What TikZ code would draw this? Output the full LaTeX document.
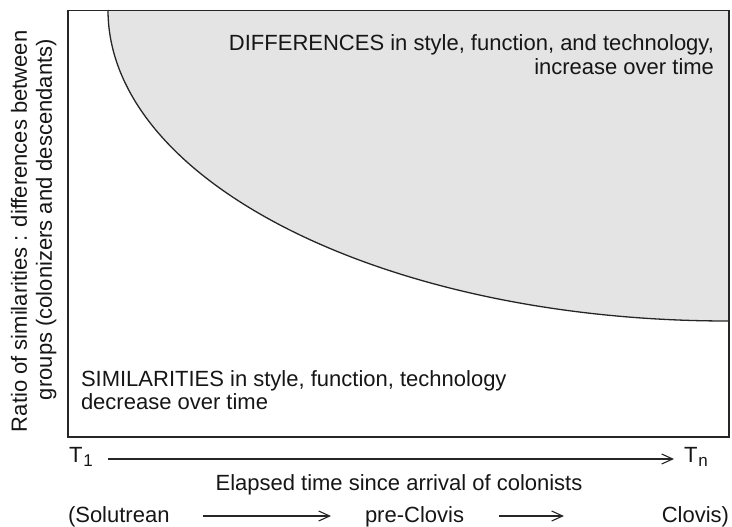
\documentclass[tikz,border=0pt]{standalone}
\usepackage{fontspec}
\setmainfont{Liberation Sans}
\usetikzlibrary{arrows.meta}
\definecolor{lineC}{HTML}{262626}
\definecolor{fillC}{HTML}{E4E4E4}
\definecolor{textC}{HTML}{161616}
\begin{document}
\begin{tikzpicture}[x=1pt,y=-1pt,
  lbl/.style={inner sep=0pt, outer sep=0pt, text=textC, font=\fontsize{22}{24}\selectfont},
  arr/.style={draw=lineC, line width=1.1pt, -{Straight Barb[length=11pt,width=10pt,line width=1.1pt]}},
  frame/.style={draw=lineC, line width=1.5pt},
  curveline/.style={draw=lineC, line width=1.3pt}]
\useasboundingbox (0,0) rectangle (732,527);
% shaded region bounded by an elliptical quadrant
\coordinate (cs) at (108,10);
\coordinate (ce) at (728,321);
\coordinate (cr) at (728,10);
\fill[fillC] (cs) arc[start angle=180, end angle=270, x radius=620pt, y radius=311pt] -- (cr) -- cycle;
\draw[curveline] (cs) arc[start angle=180, end angle=270, x radius=620pt, y radius=311pt];
% frame
\node[frame, inner sep=0pt, minimum width=661pt, minimum height=426pt, anchor=north west] (box) at (67,10) {};
% texts in box
\node[lbl, anchor=base east] (diff1) at (714,51) {DIFFERENCES in style, function, and technology,};
\node[lbl, anchor=base east] (diff2) at (714,75) {increase over time};
\node[lbl, anchor=base west] (sim1) at (81,386) {SIMILARITIES in style, function, technology};
\node[lbl, anchor=base west] (sim2) at (81,409) {decrease over time};
% y label
\node[lbl, rotate=90, anchor=base west] (ylab1) at (27,432) {Ratio of similarities : differences between};
\node[lbl, rotate=90, anchor=base west] (ylab2) at (52,400) {groups (colonizers and descendants)};
% time axis
\node[lbl, anchor=base west] (t1) at (69,462) {T\kern1pt\raisebox{-4pt}{\fontsize{17}{17}\selectfont 1}};
\node[lbl, anchor=base west] (tn) at (684,462) {T\kern1pt\raisebox{-4pt}{\fontsize{17}{17}\selectfont n}};
\coordinate (ta) at (108,459);
\coordinate (tb) at (674,459);
\draw[arr] (ta) -- (tb);
\node[lbl, anchor=base] (xlab) at (399,490) {Elapsed time since arrival of colonists};
% cultures
\node[lbl, anchor=base west] (sol) at (68,522) {(Solutrean};
\node[lbl, anchor=base west] (pre) at (365,522) {pre-Clovis};
\node[lbl, anchor=base east] (clo) at (729,522) {Clovis)};
\coordinate (a1) at (203,516);
\coordinate (b1) at (331,516);
\coordinate (a2) at (499,516);
\coordinate (b2) at (564,516);
\draw[arr] (a1) -- (b1);
\draw[arr] (a2) -- (b2);
\end{tikzpicture}
\end{document}
